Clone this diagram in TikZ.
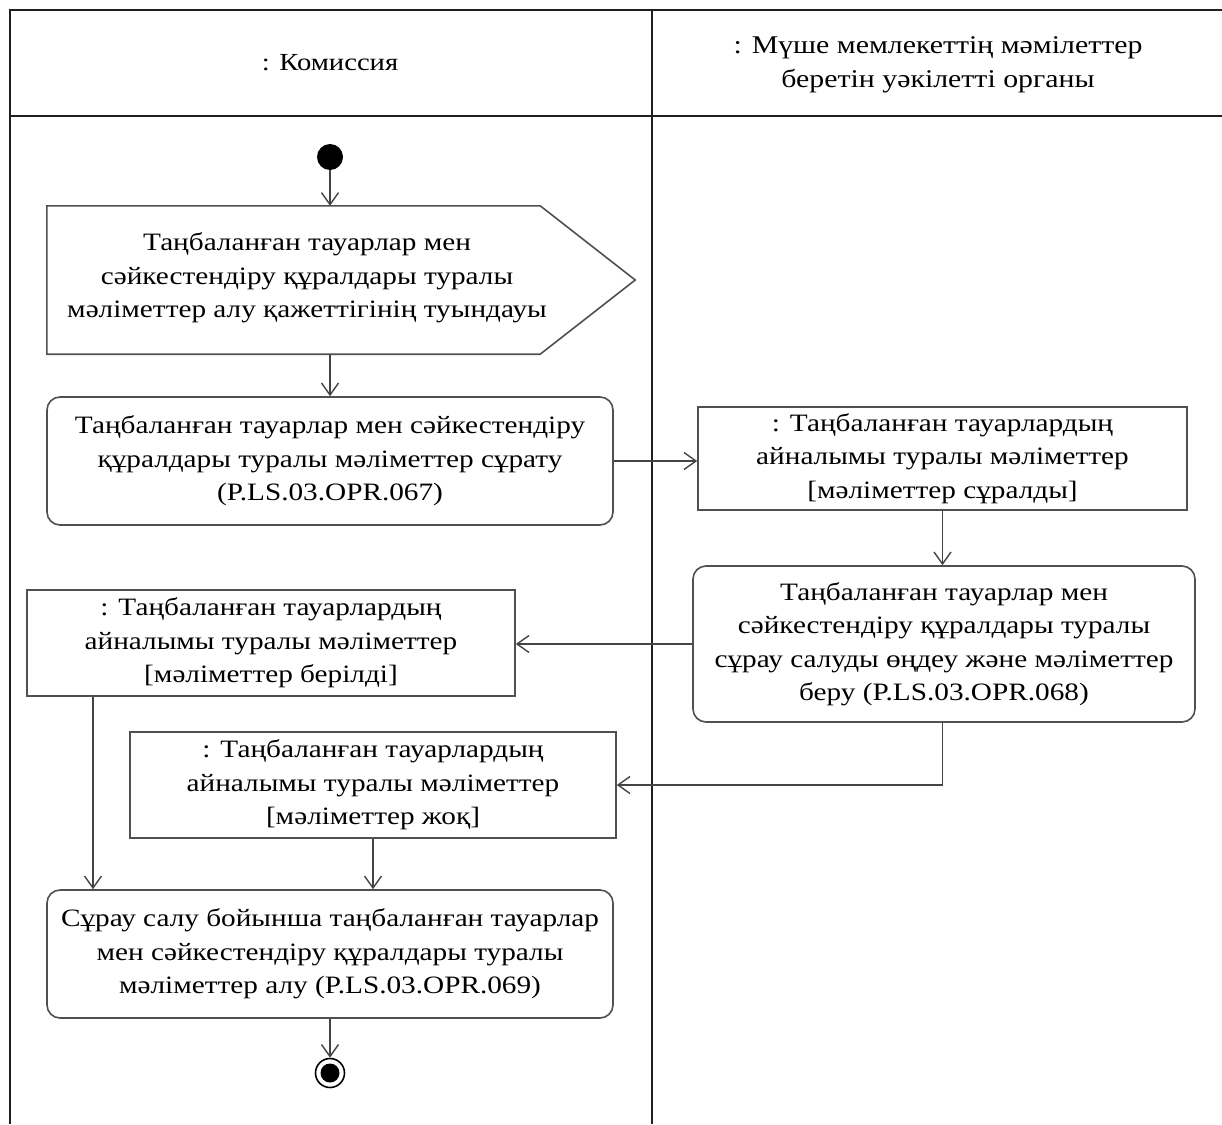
\documentclass[tikz,border=0pt]{standalone}
\usepackage{fontspec}
\setmainfont{Liberation Serif}[FakeStretch=1.17]
\usetikzlibrary{arrows.meta}
\definecolor{boxgray}{HTML}{505050}
\definecolor{linegray}{HTML}{444444}
\definecolor{lanecol}{HTML}{202020}
\newcommand{\dgfont}{\fontsize{25}{33.5}\selectfont}
\newcommand{\hdfont}{\fontsize{24.5}{34}\selectfont}
\newcommand{\hdfontb}{\fontsize{25.5}{34}\selectfont}
\begin{document}
\begin{tikzpicture}[x=1pt,y=-1pt]
\tikzset{
  box/.style={draw=boxgray, line width=1.6pt, inner sep=0pt, align=center, font=\dgfont, text=black},
  actbox/.style={box, rounded corners=13pt},
  objbox/.style={box},
  flow/.style={draw=linegray, line width=1.4pt, -{Straight Barb[length=12pt,width=17pt,line width=1.4pt]}},
  lane/.style={draw=lanecol, line width=2.2pt},
  hdr/.style={align=center, text=black}
}
\useasboundingbox (0,0) rectangle (1222,1124);
\fill[white] (0,0) rectangle (1222,1124);
% swimlanes
\draw[lane] (10,1124) -- (10,10) -- (1222,10);
\draw[lane] (10,116) -- (1222,116);
\draw[lane] (652,10) -- (652,1124);
\node[hdr, font=\hdfont] (h1) at (330,63) {: Комиссия};
\node[hdr, font=\hdfontb] (h2) at (938,65) {: Мүше мемлекеттің мәмілеттер\\ беретін уәкілетті органы};
% start
\node[circle, fill=black, minimum size=26, inner sep=0pt] (start) at (330,157) {};
% signal
\node[minimum width=588, minimum height=148, inner sep=0pt] (sig) at (341,280) {};
\draw[draw=boxgray, line width=1.6pt] (sig.north west) -- ([xshift=-95]sig.north east) -- (sig.east) -- ([xshift=-95]sig.south east) -- (sig.south west) -- cycle;
\node[font=\dgfont, align=center] (sigtxt) at (307,278) {Таңбаланған тауарлар мен\\ сәйкестендіру құралдары туралы\\ мәліметтер алу қажеттігінің туындауы};
% action 1
\node[actbox, minimum width=566, minimum height=128] (a1) at (330,461) {Таңбаланған тауарлар мен сәйкестендіру\\ құралдары туралы мәліметтер сұрату\\ (P.LS.03.OPR.067)};
% object 1
\node[objbox, minimum width=489, minimum height=103] (o1) at (942.5,458.5) {: Таңбаланған тауарлардың\\ айналымы туралы мәліметтер\\ {[}мәліметтер сұралды{]}};
% action 2
\node[actbox, minimum width=502, minimum height=156] (a2) at (944,644) {Таңбаланған тауарлар мен\\ сәйкестендіру құралдары туралы\\ сұрау салуды өңдеу және мәліметтер\\ беру (P.LS.03.OPR.068)};
% object 2
\node[objbox, minimum width=488, minimum height=106] (o2) at (271,643) {: Таңбаланған тауарлардың\\ айналымы туралы мәліметтер\\ {[}мәліметтер берілді{]}};
% object 3
\node[objbox, minimum width=486, minimum height=106] (o3) at (373,785) {: Таңбаланған тауарлардың\\ айналымы туралы мәліметтер\\ {[}мәліметтер жоқ{]}};
% action 3
\node[actbox, minimum width=566, minimum height=128] (a3) at (330,954) {Сұрау салу бойынша таңбаланған тауарлар\\ мен сәйкестендіру құралдары туралы\\ мәліметтер алу (P.LS.03.OPR.069)};
% end
\node[circle, draw=black, line width=1.6pt, minimum size=29, inner sep=0pt] (end) at (330,1073) {};
\fill[black] (end.center) circle (9.5);
% connectors
\coordinate (c93) at (93,0);
\draw[flow] (start) -- (start |- sig.north);
\draw[flow] (a1.north |- sig.south) -- (a1.north);
\draw[flow] (a1.east) -- (a1.east -| o1.west);
\draw[flow] (o1.south) -- (o1.south |- a2.north);
\draw[flow] (a2.west) -- (a2.west -| o2.east);
\draw[flow] (a2.south -| o1.south) |- (o3.east);
\draw[flow] (o2.south -| c93) -- (a3.north -| c93);
\draw[flow] (o3.south) -- (o3.south |- a3.north);
\draw[flow] (a3.south) -- (end.north);
\end{tikzpicture}
\end{document}
